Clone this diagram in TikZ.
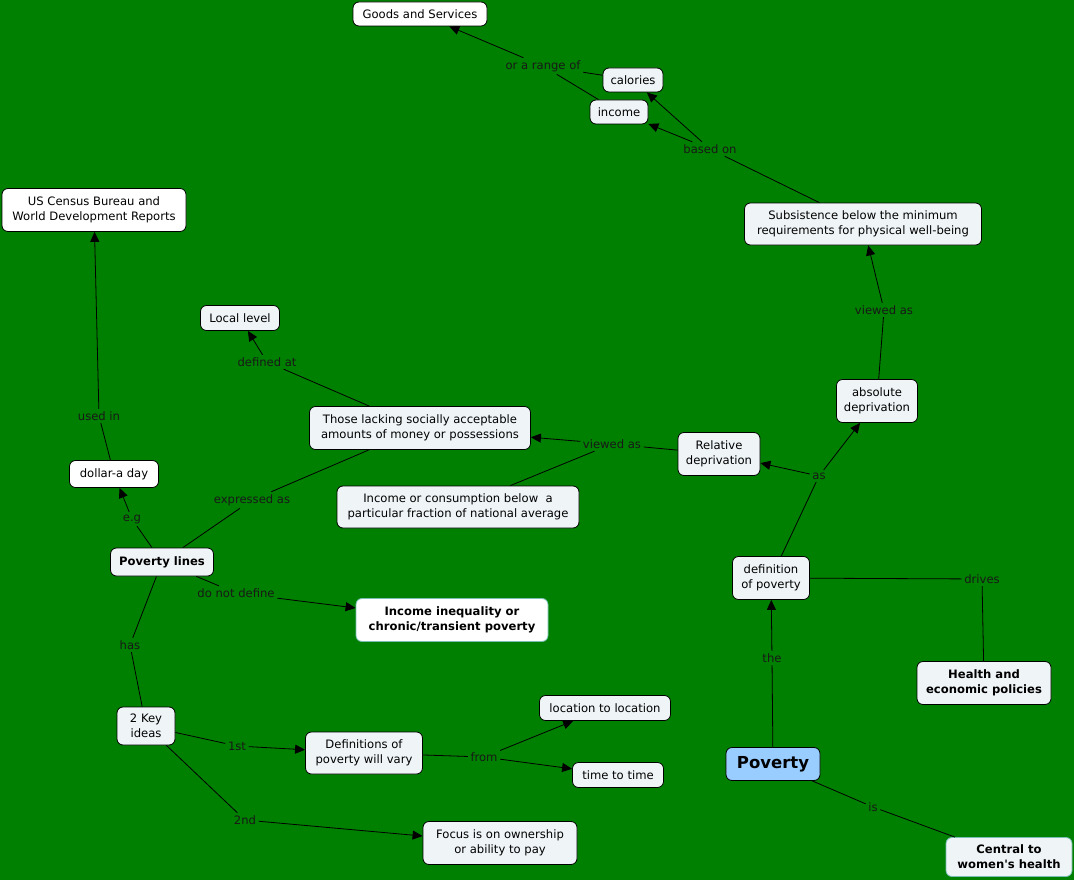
\documentclass[tikz,border=0pt]{standalone}
\usepackage{fontspec}
\setmainfont{DejaVu Sans}
\newfontfamily\plainfont{DejaVu Sans}
\usetikzlibrary{arrows.meta}
\definecolor{bg}{RGB}{0,128,0}
\definecolor{boxfill}{RGB}{239,244,247}
\definecolor{povfill}{RGB}{153,204,255}
\definecolor{tealborder}{RGB}{120,190,180}
\tikzset{
  concept/.style={draw=black, fill=boxfill, rounded corners=6pt, align=center,
    font=\plainfont\fontsize{11.6}{15}\selectfont, inner xsep=3pt, inner ysep=2pt, line width=0.8pt},
  whitebox/.style={concept, fill=white},
  boldbox/.style={concept, font=\plainfont\fontsize{11.6}{15}\selectfont\bfseries},
  lbl/.style={font=\plainfont\fontsize{11.6}{13}\selectfont, inner sep=2.5pt, text=black!90},
  link/.style={draw=black, line width=0.8pt},
  arr/.style={link, -{Triangle[width=9pt,length=10pt]}}
}
\begin{document}
\begin{tikzpicture}[x=1pt,y=-1pt]
\fill[bg] (0,0) rectangle (1074,880);
\useasboundingbox (0,0) rectangle (1074,880);

% concepts
\node[whitebox, minimum width=134pt, minimum height=24pt] (goods) at (420,14) {Goods and Services};
\node[concept, minimum width=60pt, minimum height=24pt] (cal) at (633,80) {calories};
\node[concept, minimum width=58pt, minimum height=24pt] (inc) at (619,112) {income};
\node[concept, minimum width=237pt, minimum height=42pt] (subs) at (863,224) {Subsistence below the minimum\\requirements for physical well-being};
\node[concept, minimum width=81pt, minimum height=43pt] (abs) at (877,401) {absolute\\deprivation};
\node[concept, minimum width=82pt, minimum height=43pt] (rel) at (719,454) {Relative\\deprivation};
\node[concept, minimum width=77pt, minimum height=43pt] (def) at (771,578) {definition\\of poverty};
\node[boldbox, minimum width=134pt, minimum height=43pt] (health) at (984,683) {Health and\\economic policies};
\node[concept, fill=povfill, font=\plainfont\fontsize{16.5}{18}\selectfont\bfseries, minimum width=94pt, minimum height=33pt] (pov) at (773,764) {Poverty};
\node[boldbox, draw=tealborder, minimum width=126pt, minimum height=39pt] (central) at (1009,857) {Central to\\women's health};
\node[concept, minimum width=221pt, minimum height=43pt] (those) at (420,428) {Those lacking socially acceptable\\amounts of money or possessions};
\node[concept, minimum width=242pt, minimum height=42pt] (incons) at (458,507) {Income or consumption below\ \ a\\particular fraction of national average};
\node[concept, minimum width=79pt, minimum height=25pt] (local) at (240,318) {Local level};
\node[boldbox, minimum width=103pt, minimum height=28pt] (plines) at (162,562) {Poverty lines};
\node[whitebox, minimum width=89pt, minimum height=27pt] (dollar) at (114,474) {dollar-a day};
\node[whitebox, minimum width=184pt, minimum height=43pt] (census) at (94,210) {US Census Bureau and\\World Development Reports};
\node[boldbox, fill=white, draw=tealborder, minimum width=192pt, minimum height=43pt] (ineq) at (452,620) {Income inequality or\\chronic/transient poverty};
\node[concept, minimum width=58pt, minimum height=38pt] (key) at (146,726) {2 Key\\ideas};
\node[concept, minimum width=117pt, minimum height=42pt] (vary) at (364,753) {Definitions of\\poverty will vary};
\node[concept, minimum width=131pt, minimum height=25pt] (loc) at (605,708) {location to location};
\node[concept, minimum width=91pt, minimum height=25pt] (time) at (618,775) {time to time};
\node[concept, minimum width=154pt, minimum height=43pt] (focus) at (500,843) {Focus is on ownership\\or ability to pay};

% linking phrases
\node[lbl] (l1) at (543,66) {or a range of};
\node[lbl] (l2) at (710,149) {based on};
\node[lbl] (l3) at (884,310) {viewed as};
\node[lbl] (l4) at (819,476) {as};
\node[lbl] (l5) at (982,579) {drives};
\node[lbl] (l6) at (772,658) {the};
\node[lbl] (l7) at (873,807) {is};
\node[lbl] (l8) at (612,444) {viewed as};
\node[lbl] (l9) at (267,362) {defined at};
\node[lbl] (l10) at (252,500) {expressed as};
\node[lbl] (l11) at (132,519) {e.g};
\node[lbl] (l12) at (99,416) {used in};
\node[lbl] (l13) at (236,593) {do not define};
\node[lbl] (l14) at (130,645) {has};
\node[lbl] (l15) at (237,746) {1st};
\node[lbl] (l16) at (484,757) {from};
\node[lbl] (l17) at (245,820) {2nd};

% connectors
\draw[link] (cal) -- (l1);
\draw[link] (inc) -- (l1);
\draw[arr] (l1) -- (goods);
\draw[link] (subs) -- (l2);
\draw[arr] (l2) -- (cal);
\draw[arr] (l2) -- (inc);
\draw[link] (abs) -- (l3);
\draw[arr] (l3) -- (subs);
\draw[link] (def) -- (l4);
\draw[arr] (l4) -- (rel);
\draw[arr] (l4) -- (abs);
\draw[link] (def) -- (l5);
\draw[link] (l5) -- (health);
\draw[link] (pov) -- (l6);
\draw[arr] (l6) -- (def);
\draw[link] (pov) -- (l7);
\draw[link] (l7) -- (central);
\draw[link] (rel) -- (l8);
\draw[arr] (l8) -- (those);
\draw[link] (l8) -- (incons);
\draw[link] (those) -- (l9);
\draw[arr] (l9) -- (local);
\draw[link] (plines) -- (l10);
\draw[link] (l10) -- (those);
\draw[link] (plines) -- (l11);
\draw[arr] (l11) -- (dollar);
\draw[link] (dollar) -- (l12);
\draw[arr] (l12) -- (census);
\draw[link] (plines) -- (l13);
\draw[arr] (l13) -- (ineq);
\draw[link] (plines) -- (l14);
\draw[link] (l14) -- (key);
\draw[link] (key) -- (l15);
\draw[arr] (l15) -- (vary);
\draw[link] (vary) -- (l16);
\draw[arr] (l16) -- (loc);
\draw[arr] (l16) -- (time);
\draw[link] (key) -- (l17);
\draw[arr] (l17) -- (focus);
\end{tikzpicture}
\end{document}
